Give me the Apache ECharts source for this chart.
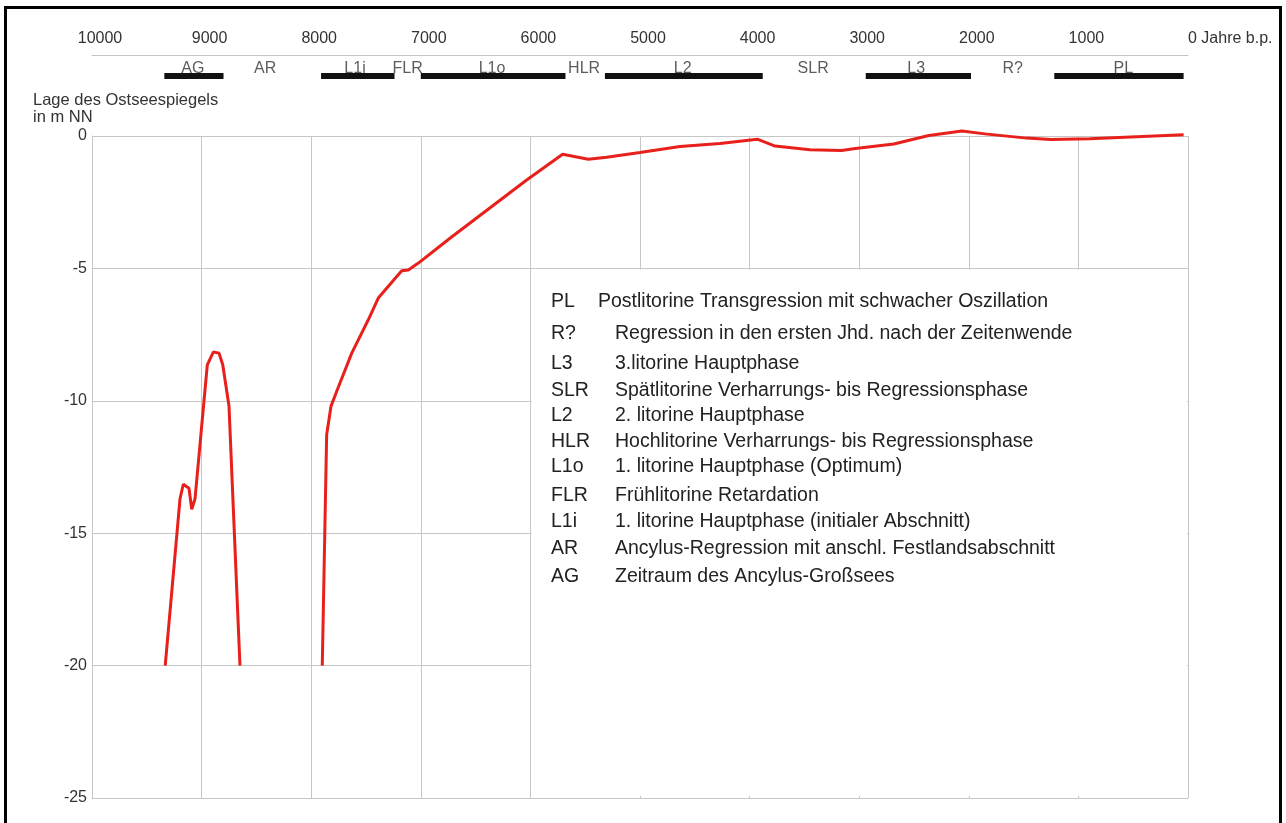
<!DOCTYPE html>
<html><head><meta charset="utf-8">
<script src="https://cdn.jsdelivr.net/npm/echarts@6/dist/echarts.min.js"></script>
<style>html,body{margin:0;padding:0;background:#fff}#c{width:1286px;height:823px}</style>
</head><body><div id="c"></div>
<script>
// ---- data ----
const yearUnitLabel = '0 Jahre b.p.';
const axisTitle = 'Lage des Ostseespiegels\nin m NN';

// phase labels along the top band
const phaseNames = ['AG','AR','L1i','FLR','L1o','HLR','L2','SLR','L3','R?','PL'];
const phaseLabelYears = [9080, 8420, 7600, 7120, 6350, 5510, 4610, 3420, 2480, 1600, 590];

// phase bars (years b.p.)
const barNames = ['AG','L1i','L1o','L2','L3','PL'];
const barStart = [9340, 7910, 7000, 5320, 2940, 1220];
const barEnd   = [8800, 7240, 5680, 3880, 1980, 40];

// sea level curve, segment 1 (Ancylus)
const seg1Years  = [9332, 9197, 9167, 9115, 9090, 9060, 8948, 8893, 8841, 8807, 8750, 8650];
const seg1Levels = [-20, -13.7, -13.15, -13.3, -14.1, -13.7, -8.64, -8.16, -8.2, -8.64, -10.2, -20];

// sea level curve, segment 2 (Litorina onwards)
const seg2Years  = [7899, 7859, 7819, 7768, 7630, 7479, 7388, 7174, 7114, 7022, 6734, 6034, 5706, 5472, 5304, 5000, 4635, 4270, 3930, 3768, 3449, 3162, 3035, 2684, 2365, 2062, 1854, 1472, 1250, 897, 40];
const seg2Levels = [-20, -11.28, -10.2, -9.65, -8.2, -6.94, -6.12, -5.09, -5.06, -4.8, -3.86, -1.66, -0.69, -0.88, -0.8, -0.62, -0.4, -0.28, -0.12, -0.38, -0.52, -0.55, -0.47, -0.3, 0.02, 0.19, 0.08, -0.08, -0.13, -0.1, 0.05];

// explanation box
const legendAbbr = ['PL','R?','L3','SLR','L2','HLR','L1o','FLR','L1i','AR','AG'];
const legendText = [
  'Postlitorine Transgression mit schwacher Oszillation',
  'Regression in den ersten Jhd. nach der Zeitenwende',
  '3.litorine Hauptphase',
  'Spätlitorine Verharrungs- bis Regressionsphase',
  '2. litorine Hauptphase',
  'Hochlitorine Verharrungs- bis Regressionsphase',
  '1. litorine Hauptphase (Optimum)',
  'Frühlitorine Retardation',
  '1. litorine Hauptphase (initialer Abschnitt)',
  'Ancylus-Regression mit anschl. Festlandsabschnitt',
  'Zeitraum des Ancylus-Großsees'
];

// ---- chart ----
const FONT = '"Liberation Sans", Arial, sans-serif';
const GRID = '#c6c6c6';
const chart = echarts.init(document.getElementById('c'), null, {renderer: 'canvas'});

const option = {
  animation: false,
  backgroundColor: '#fff',
  textStyle: {fontFamily: FONT},
  title: {
    text: axisTitle, left: 33, top: 92, padding: 0,
    textStyle: {fontFamily: FONT, fontSize: 16.5, fontWeight: 'normal', color: '#333', lineHeight: 17}
  },
  grid: [
    {left: 92, right: 98, top: 136, bottom: 25},
    {left: 92, right: 98, top: 55, height: 30}
  ],
  xAxis: [
    {
      gridIndex: 0, type: 'value', inverse: true, min: 0, max: 10000, interval: 1000,
      axisLine: {show: true, onZero: false, lineStyle: {color: GRID}}, axisTick: {show: false},
      axisLabel: {show: false},
      splitLine: {show: true, lineStyle: {color: GRID, width: 1}}
    },
    {
      gridIndex: 1, type: 'value', position: 'top', inverse: true, min: 0, max: 10000, interval: 1000,
      axisLine: {show: true, onZero: false, lineStyle: {color: GRID}}, axisTick: {show: false},
      splitLine: {show: false},
      axisLabel: {
        margin: 8, color: '#333', fontSize: 16, fontFamily: FONT,
        alignMinLabel: 'left',
        formatter: v => v === 0 ? '{z|' + yearUnitLabel + '}' : '{n|' + v + '}',
        rich: {
          n: {fontSize: 16, fontFamily: FONT, color: '#333', padding: [0, 0, 0, 16]},
          z: {fontSize: 16, fontFamily: FONT, color: '#333', padding: [0, 0, 0, 0]}
        }
      }
    }
  ],
  yAxis: [
    {
      gridIndex: 0, type: 'value', min: -25, max: 0, interval: 5,
      axisLine: {show: true, onZero: false, lineStyle: {color: GRID}}, axisTick: {show: false},
      axisLabel: {margin: 5, color: '#333', fontSize: 16, fontFamily: FONT},
      splitLine: {show: true, lineStyle: {color: GRID, width: 1}}
    },
    {gridIndex: 1, type: 'value', min: 0, max: 1, show: false}
  ],
  series: [
    {
      type: 'line', xAxisIndex: 0, yAxisIndex: 0, showSymbol: false, symbol: 'none', clip: false,
      data: seg1Years.map((y, i) => [y, seg1Levels[i]]),
      lineStyle: {color: '#e8201c', width: 3}, z: 5
    },
    {
      type: 'line', xAxisIndex: 0, yAxisIndex: 0, showSymbol: false, symbol: 'none', clip: false,
      data: seg2Years.map((y, i) => [y, seg2Levels[i]]),
      lineStyle: {color: '#e8201c', width: 3}, z: 5
    },
    {
      type: 'custom', xAxisIndex: 1, yAxisIndex: 1,
      data: barNames.map((n, i) => [barStart[i], barEnd[i], 0.3]),
      encode: {x: [0, 1], y: 2},
      renderItem: (params, api) => {
        const p1 = api.coord([api.value(0), api.value(2)]);
        const p2 = api.coord([api.value(1), api.value(2)]);
        return {
          type: 'rect',
          shape: {x: Math.min(p1[0], p2[0]), y: p1[1] - 3, width: Math.abs(p2[0] - p1[0]), height: 6},
          style: {fill: '#111'}
        };
      },
      z: 3
    },
    {
      type: 'scatter', xAxisIndex: 1, yAxisIndex: 1, symbolSize: 1,
      itemStyle: {color: 'rgba(0,0,0,0)'},
      data: phaseNames.map((n, i) => [phaseLabelYears[i], 0.55, n]),
      label: {
        show: true, position: 'inside', formatter: p => p.data[2],
        color: '#333', fontSize: 16, fontFamily: FONT
      },
      z: 4
    }
  ]
};
chart.setOption(option);

// explanation box built on the axes' own scale
const tl = chart.convertToPixel({xAxisIndex: 0, yAxisIndex: 0}, [6000, -5]);
const br = chart.convertToPixel({xAxisIndex: 0, yAxisIndex: 0}, [0, -25]);
const rowY = [302, 334, 364, 391, 416, 442, 467, 496, 522, 549, 577];
const gfx = [
  {
    type: 'rect', z: 10,
    shape: {x: tl[0] + 1, y: tl[1] + 1, width: br[0] - tl[0] - 2, height: br[1] - tl[1] - 3},
    style: {fill: '#fff', stroke: null}
  },
  {
    type: 'rect', z: 20,
    shape: {x: 5.5, y: 7.5, width: 1275, height: 840},
    style: {fill: null, stroke: '#000', lineWidth: 3}
  }
];
legendAbbr.forEach((a, i) => {
  gfx.push({
    type: 'text', z: 11, x: 551, y: rowY[i],
    style: {text: a, fontSize: 19.5, fontFamily: FONT, fill: '#222', textVerticalAlign: 'middle'}
  });
  gfx.push({
    type: 'text', z: 11, x: i === 0 ? 598 : 615, y: rowY[i],
    style: {text: legendText[i], fontSize: 19.5, fontFamily: FONT, fill: '#222', textVerticalAlign: 'middle'}
  });
});
chart.setOption({graphic: gfx});
</script>
</body></html>
